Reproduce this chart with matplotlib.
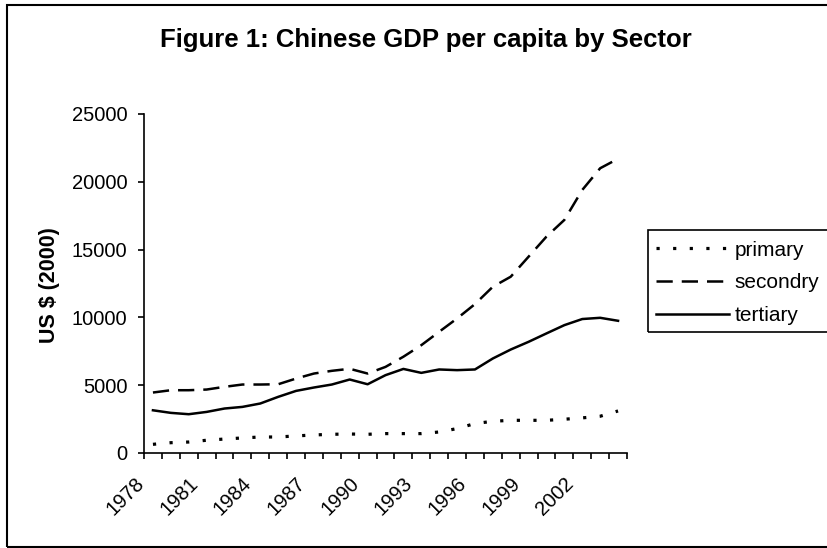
import numpy as np
import matplotlib
matplotlib.use("Agg")
import matplotlib.pyplot as plt
from matplotlib.patches import Rectangle
from matplotlib.transforms import ScaledTranslation

years = list(range(1978, 2005))
primary = [640, 760, 810, 940, 1030, 1110, 1180, 1180, 1260, 1330, 1380, 1400, 1380, 1430,
           1430, 1430, 1550, 1800, 2170, 2340, 2410, 2410, 2410, 2490, 2590, 2710, 3100]
secondary = [4460, 4630, 4630, 4680, 4880, 5050, 5050, 5070, 5490, 5860, 6060, 6210, 5860, 6350,
             7100, 7950, 8940, 9920, 10980, 12260, 13000, 14480, 15960, 17190, 19400, 21000, 21700]
tertiary = [3150, 2960, 2860, 3030, 3280, 3400, 3650, 4140, 4580, 4830, 5050, 5420, 5070, 5740,
            6200, 5910, 6160, 6110, 6160, 6970, 7630, 8200, 8820, 9430, 9880, 9970, 9750]
series_names = ["primary", "secondry", "tertiary"]
yticks = [0, 5000, 10000, 15000, 20000, 25000]

plt.rcParams['font.family'] = ['Liberation Sans', 'DejaVu Sans']

W, H = 828, 548
fig = plt.figure(figsize=(W / 100, H / 100), dpi=100)

# outer chart border (right side runs off the picture)
fig.patches.append(Rectangle((7 / W, 1 - 547 / H), 1.2, (547 - 5) / H,
                             transform=fig.transFigure, fill=False, lw=1.5, ec='black'))

ax = fig.add_axes([144 / W, 1 - 453 / H, (627 - 144) / W, (453 - 114) / H])
x = np.arange(len(years))

l1, = ax.plot(x, primary, color='black', lw=2.3, linestyle=(0, (1, 4.2)))
l2, = ax.plot(x, secondary, color='black', lw=1.8, linestyle=(0, (6.5, 3.6)))
l3, = ax.plot(x, tertiary, color='black', lw=1.8)

ax.set_xlim(-0.5, len(years) - 0.5)
ax.set_ylim(0, 25000)
ax.spines['top'].set_visible(False)
ax.spines['right'].set_visible(False)
ax.spines['left'].set_linewidth(1.2)
ax.spines['bottom'].set_linewidth(1.2)

ax.set_yticks(yticks)
ax.set_yticklabels([str(v) for v in yticks], fontsize=14.5)
ax.tick_params(axis='y', direction='out', length=4, width=1.2, pad=8)

# ticks between categories, labels every third year
ax.set_xticks(np.arange(-0.5, len(years), 1.0), minor=True)
ax.tick_params(axis='x', which='minor', direction='out', length=4, width=1.2)
ax.set_xticks(x[::3])
ax.set_xticklabels([str(y) for y in years[::3]], fontsize=14.5, rotation=45,
                   ha='right', va='top')
ax.tick_params(axis='x', which='major', length=0, pad=15)
for lab in ax.get_xticklabels():
    lab.set_transform(lab.get_transform() + ScaledTranslation(-5 / 100, 0, fig.dpi_scale_trans))

fig.text(426 / W, 1 - 40 / H, "Figure 1: Chinese GDP per capita by Sector",
         ha='center', va='center', fontsize=18.5, fontweight='bold')
fig.text(50 / W, 1 - 285 / H, "US $ (2000)", ha='center', va='center',
         rotation=90, fontsize=15.5, fontweight='bold')

# legend box, also running past the right edge
fig.patches.append(Rectangle((648 / W, 1 - 332 / H), 0.5, (332 - 230) / H,
                             transform=fig.transFigure, fill=False, lw=1.2, ec='black'))
fig.legend([l1, l2, l3], series_names, loc='upper left',
           bbox_to_anchor=(654 / W, 1 - 238.5 / H), frameon=False, fontsize=15,
           handlelength=3.5, handletextpad=0.25, labelspacing=0.66, borderpad=0.1,
           borderaxespad=0)

fig.savefig("out.png", dpi=100)
